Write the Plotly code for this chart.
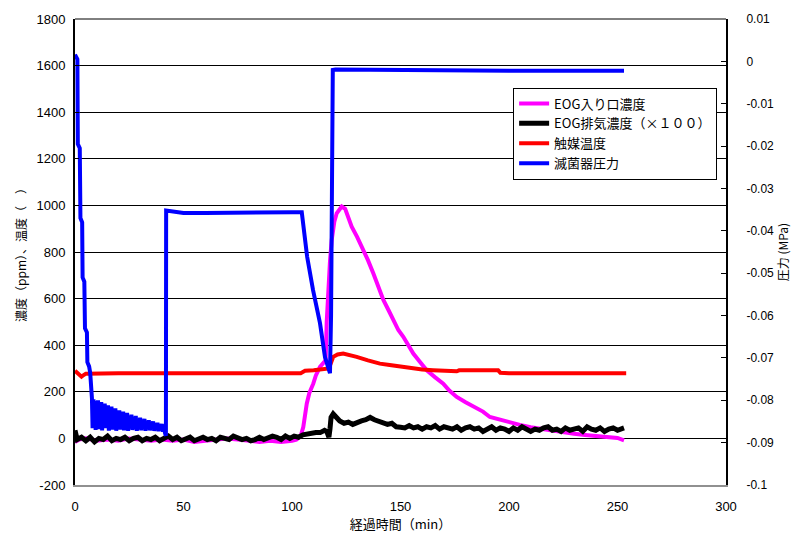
import plotly.graph_objects as go

# ---------------- data ----------------
# EOG inlet concentration (ppm)
inlet_t = [0, 2, 5, 10, 15, 20, 25, 30, 35, 40, 45, 50, 55, 60, 65, 70, 75, 80, 85, 90, 95, 100,
           102, 104, 105.2, 106.8, 108, 109.8, 111, 112.9, 114.4, 115.5, 116, 116.6, 117.5, 118.3,
           119.5, 120.6, 122, 122.9, 124.5, 127.5, 130, 132.9, 135, 137.5, 140, 142.1, 144.5, 146.7,
           149, 151.3, 153.5, 155.9, 159, 162.1, 166, 169.7, 172.5, 175.9, 180, 184, 188, 191.2, 195,
           200, 205, 210, 215, 220, 225, 230, 235, 240, 245, 250, 253]
inlet_v = [-15, -5, 0, -10, -5, -10, 0, -5, -10, -5, -10, -5, -15, -10, -5, 0, -5, -10, -15, -10, -15, -10,
           -5, 10, 49, 149, 195, 235, 270, 307, 321, 335, 500, 620, 760, 852,
           930, 966, 985, 995, 985, 909, 865, 809, 765, 708, 650, 594, 550, 508,
           465, 436, 400, 364, 328, 292, 262, 235, 205, 178, 155, 135, 115, 92, 82,
           70, 58, 48, 40, 33, 26, 20, 15, 11, 7, 2, -8]

# EOG exhaust concentration (x100)
exh_t = [0, 0.5, 1, 3, 5, 7, 9, 11, 13, 15, 17, 19, 21, 23, 25, 27, 29, 31, 33, 35, 37, 39, 41, 43,
         45, 47, 49, 51, 53, 55, 57, 59, 61, 63, 65, 67, 69, 71, 73, 75, 77, 79, 81, 83, 85, 87, 89,
         91, 93, 95, 97, 99, 101, 103, 105, 107, 109, 111, 113, 115, 116, 117, 117.5, 118, 119, 120,
         121, 122, 124, 126, 128, 130, 132, 134, 136, 138, 140, 142, 144, 146, 148, 150, 152, 154,
         156, 158, 160, 162, 164, 166, 168, 170, 172, 174, 176, 178, 180, 182, 184, 186, 188, 190,
         192, 194, 196, 198, 200, 202, 204, 206, 208, 210, 212, 214, 216, 218, 220, 222, 224, 226,
         228, 230, 232, 234, 236, 238, 240, 242, 244, 246, 248, 250, 252, 253]
exh_v = [35, 10, -5, 5, -10, 5, -15, 0, -5, 10, -10, 0, -5, 5, -10, 0, 5, -10, 0, -5, 5, -10, 0, 10,
         -5, 5, -10, -5, 5, -10, 0, 5, -5, 0, -10, 5, 0, -5, 10, 5, -5, 0, -10, -5, 5, -5, 0,
         10, 5, -5, 10, 0, 10, 5, 15, 20, 20, 25, 25, 35, 30, 5, 40, 90, 105, 95,
         85, 75, 65, 70, 60, 70, 75, 80, 90, 80, 75, 70, 60, 65, 50, 48, 45, 55,
         45, 50, 40, 50, 45, 55, 40, 50, 45, 40, 50, 35, 45, 50, 40, 45, 30, 40,
         50, 35, 45, 40, 30, 45, 35, 50, 40, 30, 40, 35, 45, 50, 35, 40, 30, 45,
         35, 40, 45, 30, 50, 40, 35, 45, 30, 40, 45, 35, 40, 45]

# Catalyst temperature
temp_t = [0, 1, 2, 3, 4, 5, 20, 40, 60, 80, 100, 104, 105, 106, 110, 115, 117, 119, 120, 121,
          123.6, 126, 129.8, 135, 140.5, 145, 150, 155.9, 160, 165, 170, 175.9, 177, 185, 195,
          196, 200, 220, 240, 254]
temp_v = [290, 282, 270, 265, 272, 278, 280, 280, 280, 280, 280, 280, 285, 290, 292, 295, 300, 350,
          356, 360, 364, 360, 350, 335, 321, 315, 308, 300, 296, 293, 291, 288, 292, 292, 292,
          282, 280, 280, 280, 280]

# Sterilizer pressure (MPa)
pres_t = [0, 0.6, 1.1, 1.3, 2.2, 2.5, 3.3, 3.5, 4.3, 4.6, 5.5, 5.7, 6.5, 7.0, 7.5,
          7.8, 8.1, 8.5, 8.8, 9.2, 9.5, 9.9, 10.3, 10.6, 11.0, 11.4, 11.8, 12.1, 12.5, 12.9, 13.3,
          13.7, 14.0, 14.4, 14.8, 15.2, 15.6, 16.0, 16.4, 16.8, 17.2, 17.7, 18.1, 18.6, 19.0, 19.5,
          19.9, 20.4, 20.8, 21.3, 21.7, 22.2, 22.6, 23.1, 23.5, 24.0, 24.5, 25.0, 25.5, 26.0, 26.5,
          27.0, 27.5, 28.0, 28.5, 29.0, 29.5, 30.0, 30.5, 31.0, 31.5, 32.0, 32.5, 33.0, 33.5, 34.0,
          34.5, 35.0, 35.5, 36.0, 36.5, 37.0, 37.5, 38.0, 38.5, 39.0, 39.5, 40.0, 40.5, 41.0, 41.5,
          41.9, 42.0, 50, 60, 70, 80, 90, 95, 100, 104.5,
          105, 107, 109.7, 112.9, 115.2, 117.5, 118.0, 118.3, 118.8, 120, 150, 170, 200, 230, 253]
pres_v = [0.0016, 0.0010, 0.0005, -0.0195, -0.0205, -0.0370, -0.0380, -0.0510, -0.0520, -0.0630,
          -0.0640, -0.0710, -0.0720, -0.0735, -0.0760,
          -0.0795, -0.0866, -0.0798, -0.0840, -0.0801, -0.0870, -0.0806, -0.0852, -0.0800, -0.0868,
          -0.0812, -0.0845, -0.0804, -0.0871, -0.0816, -0.0858, -0.0808, -0.0866, -0.0822, -0.0848,
          -0.0812, -0.0872, -0.0826, -0.0855, -0.0815, -0.0869, -0.0830, -0.0860, -0.0819, -0.0872,
          -0.0833, -0.0851, -0.0824, -0.0869, -0.0836, -0.0862, -0.0827, -0.0871, -0.0838, -0.0856,
          -0.0830, -0.0872, -0.0842, -0.0861, -0.0834, -0.0870, -0.0845, -0.0858, -0.0837, -0.0872,
          -0.0848, -0.0864, -0.0841, -0.0871, -0.0850, -0.0860, -0.0844, -0.0872, -0.0853, -0.0866,
          -0.0847, -0.0871, -0.0856, -0.0864, -0.0850, -0.0872, -0.0858, -0.0868, -0.0853, -0.0873,
          -0.0860, -0.0869, -0.0856, -0.0874, -0.0862, -0.0878, -0.0884, -0.0352, -0.0358, -0.0358,
          -0.0357, -0.0357, -0.0356, -0.0356, -0.0356, -0.0356,
          -0.0374, -0.0462, -0.0540, -0.0618, -0.0698, -0.0736, -0.0600, -0.0140, -0.0020, -0.0019,
          -0.0021, -0.0022, -0.0022, -0.0022, -0.0022]

left_ticks = [-200, 0, 200, 400, 600, 800, 1000, 1200, 1400, 1600, 1800]
left_labels = ["-200", "0", "200", "400", "600", "800", "1000", "1200", "1400", "1600", "1800"]
right_ticks = [0.01, 0, -0.01, -0.02, -0.03, -0.04, -0.05, -0.06, -0.07, -0.08, -0.09, -0.1]
right_labels = ["0.01", "0", "-0.01", "-0.02", "-0.03", "-0.04", "-0.05", "-0.06", "-0.07",
                "-0.08", "-0.09", "-0.1"]
x_ticks = [0, 50, 100, 150, 200, 250, 300]

names = ["EOG入り口濃度", "EOG排気濃度（×１００）", "触媒温度", "滅菌器圧力"]
colors = ["#ff00ff", "#000000", "#ff0000", "#0000ff"]

# ---------------- figure ----------------
JP = "Noto Sans CJK JP"
NUM = "Liberation Sans"

fig = go.Figure()
fig.add_trace(go.Scatter(x=inlet_t, y=inlet_v, mode="lines", name=names[0],
                         line=dict(color=colors[0], width=4)))
fig.add_trace(go.Scatter(x=exh_t, y=exh_v, mode="lines", name=names[1],
                         line=dict(color=colors[1], width=5)))
fig.add_trace(go.Scatter(x=temp_t, y=temp_v, mode="lines", name=names[2],
                         line=dict(color=colors[2], width=4)))
fig.add_trace(go.Scatter(x=pres_t, y=pres_v, mode="lines", name=names[3], yaxis="y2",
                         line=dict(color=colors[3], width=4)))

fig.update_layout(
    width=793, height=537,
    margin=dict(l=75, r=67, t=19, b=52),
    paper_bgcolor="white", plot_bgcolor="white",
    showlegend=True,
    legend=dict(x=0.673, y=0.853, xanchor="left", yanchor="top",
                bgcolor="white", bordercolor="black", borderwidth=1,
                font=dict(family=JP, size=13, color="black"),
                tracegroupgap=0),
    xaxis=dict(range=[0, 300], tickvals=x_ticks, showgrid=False, zeroline=False,
               showline=True, linecolor="#909090", linewidth=2, automargin=False,
               ticks="", ticklabelstandoff=8,
               tickfont=dict(family=NUM, size=13, color="black"),
               title=dict(text="経過時間（min）", font=dict(family=JP, size=13, color="black"),
                          standoff=6)),
    xaxis2=dict(range=[0, 300], tickvals=x_ticks, overlaying="x", anchor="free", position=0.1,
                showticklabels=False, showgrid=False, zeroline=False, showline=False,
                automargin=False,
                ticks="outside", ticklen=4, tickcolor="black", tickwidth=1),
    yaxis=dict(range=[-200, 1800], tickvals=left_ticks, ticktext=left_labels,
               showgrid=True, gridcolor="black", gridwidth=1, zeroline=False,
               showline=True, linecolor="black", linewidth=2, automargin=False,
               ticks="inside", ticklen=4, tickcolor="black", ticklabelstandoff=5,
               tickfont=dict(family=NUM, size=13, color="black"),
               title=dict(text="濃度（ppm）、温度（　）", font=dict(family=JP, size=12, color="black"),
                          standoff=7)),
    yaxis2=dict(range=[-0.1, 0.01], tickvals=right_ticks, ticktext=right_labels,
                overlaying="y", side="right", showgrid=False, zeroline=False,
                showline=True, linecolor="black", linewidth=2, automargin=False,
                ticks="inside", ticklen=5, tickcolor="black", ticklabelstandoff=16,
                tickfont=dict(family=NUM, size=12, color="black"),
                title=dict(text="圧力 (MPa)", font=dict(family=JP, size=12, color="black"),
                           standoff=0)),
)
fig.add_shape(type="line", xref="paper", yref="paper", x0=0, x1=1, y0=1, y1=1,
              line=dict(color="black", width=1))

fig.write_html("out.html", config={"displayModeBar": False},
               post_script="document.body.style.margin='0px';")
